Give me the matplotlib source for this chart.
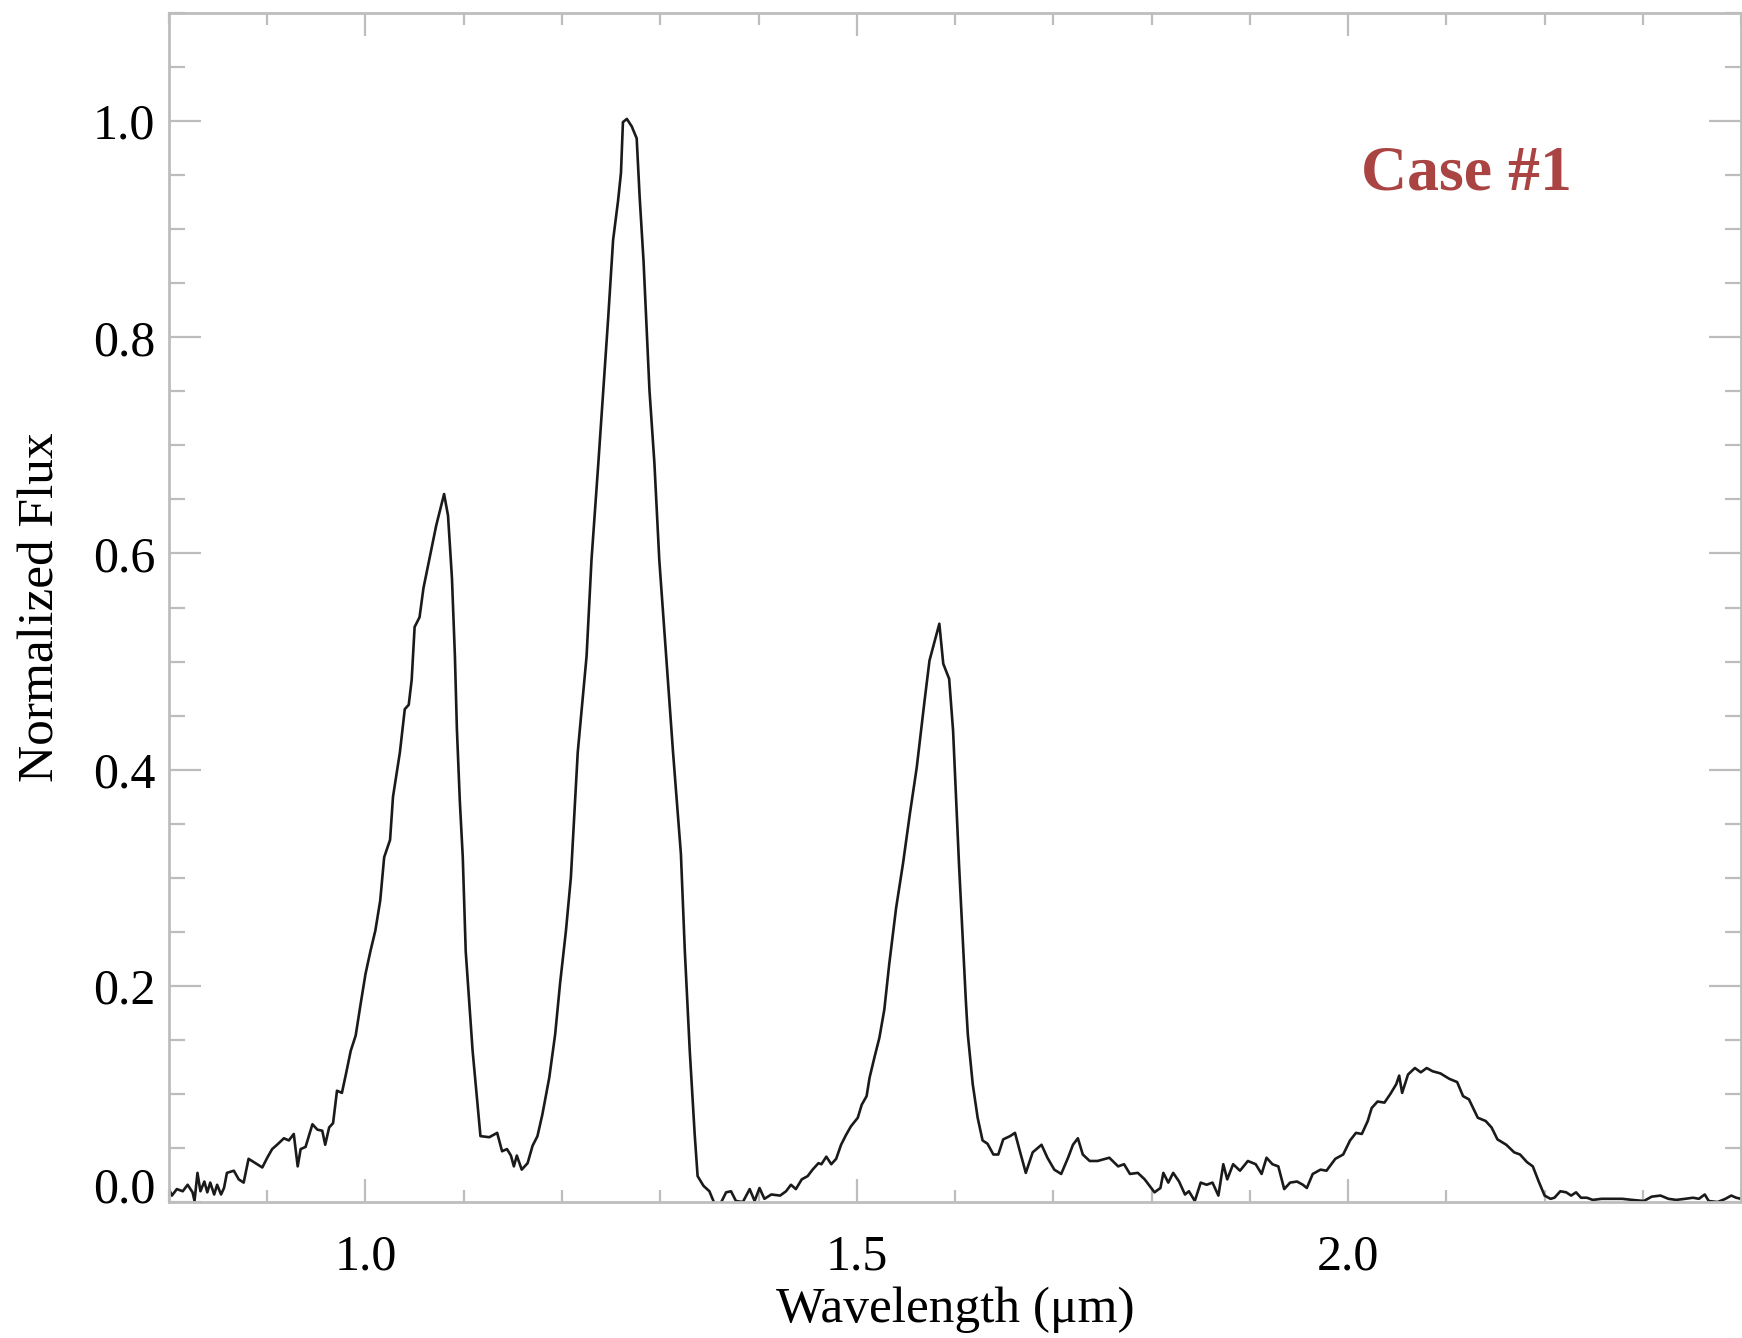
import numpy as np
import matplotlib
matplotlib.use("Agg")
import matplotlib.pyplot as plt
from matplotlib.ticker import MultipleLocator

# spectrum
wavelength = [
    0.800, 0.803, 0.808, 0.814, 0.819, 0.824, 0.826, 0.829, 0.832, 0.836,
    0.839, 0.842, 0.846, 0.849, 0.853, 0.856, 0.859, 0.866, 0.871, 0.876,
    0.881, 0.888, 0.895, 0.900, 0.905, 0.910, 0.917, 0.922, 0.927, 0.931,
    0.934, 0.939, 0.946, 0.951, 0.956, 0.959, 0.963, 0.967, 0.971, 0.976,
    0.980, 0.985, 0.990, 0.995, 1.000, 1.005, 1.010, 1.015, 1.019, 1.025,
    1.028, 1.035, 1.040, 1.044, 1.047, 1.050, 1.055, 1.059, 1.066, 1.072,
    1.080, 1.084, 1.088, 1.091, 1.093, 1.096, 1.099, 1.102, 1.109, 1.114,
    1.117, 1.126, 1.134, 1.139, 1.144, 1.148, 1.151, 1.154, 1.159, 1.165,
    1.170, 1.175, 1.180, 1.187, 1.193, 1.198, 1.204, 1.209, 1.216, 1.225,
    1.230, 1.237, 1.242, 1.247, 1.252, 1.257, 1.260, 1.262, 1.266, 1.271,
    1.276, 1.279, 1.283, 1.286, 1.289, 1.294, 1.299, 1.306, 1.313, 1.321,
    1.325, 1.330, 1.335, 1.338, 1.344, 1.350, 1.355, 1.361, 1.367, 1.372,
    1.377, 1.384, 1.391, 1.396, 1.401, 1.406, 1.413, 1.422, 1.428, 1.433,
    1.438, 1.444, 1.450, 1.455, 1.461, 1.464, 1.469, 1.474, 1.479, 1.484,
    1.489, 1.494, 1.501, 1.505, 1.510, 1.513, 1.518, 1.523, 1.528, 1.533,
    1.540, 1.547, 1.554, 1.561, 1.569, 1.574, 1.584, 1.588, 1.594, 1.598,
    1.601, 1.604, 1.608, 1.611, 1.613, 1.618, 1.623, 1.628, 1.633, 1.639,
    1.644, 1.649, 1.656, 1.661, 1.666, 1.672, 1.679, 1.688, 1.694, 1.701,
    1.708, 1.715, 1.720, 1.725, 1.730, 1.737, 1.745, 1.757, 1.766, 1.772,
    1.778, 1.786, 1.793, 1.803, 1.809, 1.812, 1.817, 1.822, 1.828, 1.834,
    1.838, 1.844, 1.850, 1.856, 1.862, 1.868, 1.873, 1.877, 1.883, 1.890,
    1.898, 1.906, 1.912, 1.917, 1.923, 1.929, 1.935, 1.941, 1.948, 1.954,
    1.958, 1.964, 1.972, 1.978, 1.987, 1.995, 2.002, 2.008, 2.014, 2.020,
    2.024, 2.030, 2.037, 2.043, 2.049, 2.052, 2.055, 2.061, 2.068, 2.074,
    2.080, 2.086, 2.094, 2.103, 2.111, 2.117, 2.123, 2.132, 2.140, 2.146,
    2.152, 2.161, 2.169, 2.175, 2.182, 2.188, 2.194, 2.200, 2.206, 2.210,
    2.216, 2.222, 2.227, 2.232, 2.237, 2.243, 2.249, 2.258, 2.268, 2.279,
    2.289, 2.301, 2.309, 2.318, 2.326, 2.334, 2.343, 2.351, 2.357, 2.363,
    2.367, 2.376, 2.384, 2.390, 2.395, 2.400,
]
flux = [
    0.012, 0.006, 0.012, 0.010, 0.016, 0.009, 0.001, 0.027, 0.010, 0.019,
    0.009, 0.018, 0.007, 0.016, 0.007, 0.013, 0.027, 0.029, 0.021, 0.018,
    0.040, 0.036, 0.032, 0.041, 0.049, 0.053, 0.059, 0.057, 0.063, 0.033,
    0.049, 0.051, 0.072, 0.067, 0.066, 0.053, 0.069, 0.073, 0.103, 0.101,
    0.118, 0.140, 0.154, 0.183, 0.211, 0.232, 0.251, 0.279, 0.319, 0.335,
    0.375, 0.416, 0.456, 0.460, 0.483, 0.532, 0.541, 0.568, 0.599, 0.626,
    0.655, 0.635, 0.577, 0.505, 0.438, 0.371, 0.319, 0.232, 0.140, 0.090,
    0.061, 0.060, 0.064, 0.047, 0.049, 0.043, 0.033, 0.043, 0.030, 0.036,
    0.052, 0.061, 0.081, 0.115, 0.155, 0.202, 0.251, 0.300, 0.416, 0.505,
    0.594, 0.684, 0.751, 0.818, 0.890, 0.926, 0.952, 0.999, 1.002, 0.995,
    0.984, 0.930, 0.870, 0.810, 0.751, 0.684, 0.594, 0.505, 0.416, 0.322,
    0.232, 0.140, 0.063, 0.024, 0.015, 0.010, -0.001, -0.002, 0.009, 0.010,
    0.001, 0.000, 0.012, 0.001, 0.013, 0.003, 0.007, 0.006, 0.010, 0.016,
    0.012, 0.021, 0.024, 0.030, 0.036, 0.035, 0.042, 0.035, 0.040, 0.053,
    0.062, 0.070, 0.078, 0.090, 0.098, 0.115, 0.134, 0.152, 0.178, 0.220,
    0.272, 0.313, 0.359, 0.402, 0.464, 0.501, 0.535, 0.498, 0.484, 0.436,
    0.374, 0.313, 0.240, 0.186, 0.155, 0.109, 0.078, 0.057, 0.054, 0.044,
    0.044, 0.058, 0.061, 0.064, 0.047, 0.027, 0.046, 0.053, 0.041, 0.030,
    0.026, 0.041, 0.053, 0.059, 0.044, 0.038, 0.038, 0.041, 0.033, 0.035,
    0.026, 0.027, 0.021, 0.009, 0.013, 0.027, 0.018, 0.027, 0.019, 0.007,
    0.010, 0.001, 0.018, 0.016, 0.018, 0.006, 0.035, 0.021, 0.035, 0.029,
    0.038, 0.035, 0.026, 0.041, 0.035, 0.033, 0.012, 0.018, 0.019, 0.016,
    0.013, 0.026, 0.030, 0.029, 0.040, 0.044, 0.057, 0.064, 0.063, 0.075,
    0.087, 0.093, 0.092, 0.100, 0.109, 0.117, 0.101, 0.118, 0.124, 0.120,
    0.124, 0.121, 0.119, 0.114, 0.111, 0.098, 0.095, 0.078, 0.075, 0.069,
    0.058, 0.053, 0.046, 0.044, 0.037, 0.033, 0.019, 0.006, 0.003, 0.004,
    0.010, 0.009, 0.006, 0.009, 0.004, 0.004, 0.002, 0.003, 0.003, 0.003,
    0.002, 0.001, 0.005, 0.006, 0.003, 0.002, 0.003, 0.004, 0.003, 0.007,
    0.001, 0.000, 0.003, 0.006, 0.004, 0.003,
]

x_ticks = [1.0, 1.5, 2.0]
x_tick_labels = ["1.0", "1.5", "2.0"]
y_ticks = [0.0, 0.2, 0.4, 0.6, 0.8, 1.0]
y_tick_labels = ["0.0", "0.2", "0.4", "0.6", "0.8", "1.0"]

plt.rcParams["font.family"] = ["Liberation Serif", "DejaVu Serif"]

fig = plt.figure(figsize=(17.42, 13.38), dpi=100)
ax = fig.add_axes([0.097, 0.1016, 0.9025, 0.8887])

ax.plot(wavelength, flux, color="#1a1a1a", lw=1.9)

ax.set_xlim(0.8, 2.4)
ax.set_ylim(0.0, 1.1)

ax.set_xticks(x_ticks)
ax.set_xticklabels(x_tick_labels)
ax.set_yticks(y_ticks)
ax.set_yticklabels(y_tick_labels)
ax.xaxis.set_minor_locator(MultipleLocator(0.1))
ax.yaxis.set_minor_locator(MultipleLocator(0.05))

grey = "#bdbdbd"
for s in ax.spines.values():
    s.set_color(grey)
    s.set_linewidth(2.0)

ax.tick_params(axis="both", which="both", direction="in", top=True, right=True,
               color=grey, width=1.6, labelsize=36, labelcolor="black")
ax.tick_params(axis="x", which="major", length=16.5, pad=23)
ax.tick_params(axis="x", which="minor", length=8.5)
ax.tick_params(axis="y", which="major", length=23, pad=10)
ax.tick_params(axis="y", which="minor", length=11.5)

# the zero label sits above the axis like in the original
ax.get_yticklabels()[0].set_verticalalignment("baseline")

ax.set_xlabel("Wavelength (\u03bcm)", fontsize=37, labelpad=4)
ax.set_ylabel("Normalized Flux", fontsize=37, labelpad=20)

ax.text(2.12, 0.951, "Case #1", fontsize=46, fontweight="bold",
        color="#a94442", ha="center", va="center")

fig.savefig("out.png", dpi=100, facecolor="white")
